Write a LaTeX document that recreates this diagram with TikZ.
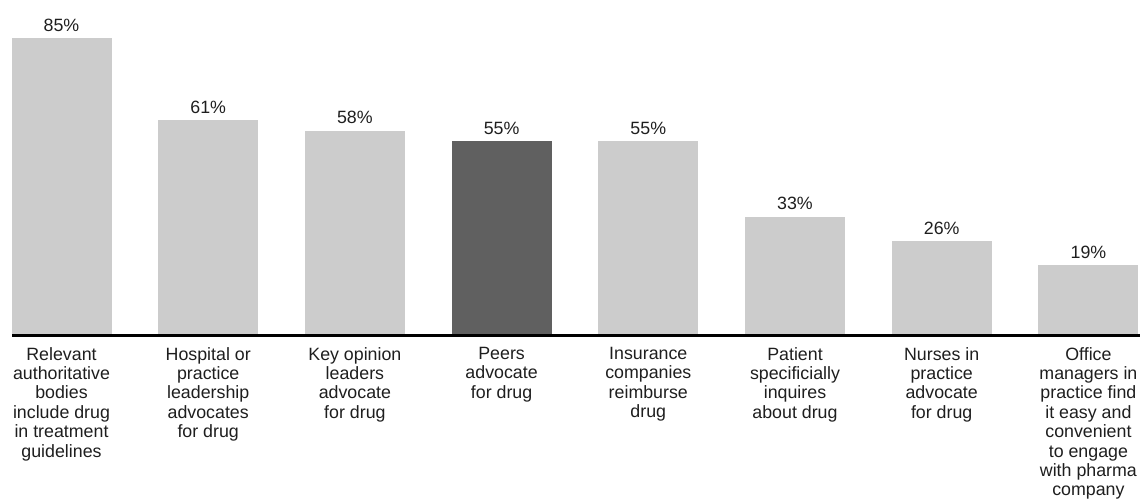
\documentclass[tikz,border=0pt]{standalone}
\usepackage{fontspec}
\setmainfont{Liberation Sans}
\usetikzlibrary{positioning}

\definecolor{barlight}{HTML}{CCCCCC}
\definecolor{bardark}{HTML}{606060}
\definecolor{inktext}{HTML}{1E1E1E}

\tikzstyle{bar} = [rectangle, inner sep=0pt, minimum width=100pt, anchor=south, fill=barlight]
\tikzstyle{bar-dark} = [bar, fill=bardark]
\tikzstyle{value} = [inner sep=0pt, anchor=base, text=inktext, font=\fontsize{17.8}{19.4}\selectfont]
\tikzstyle{cat} = [inner sep=0pt, anchor=north, align=center, text=inktext, font=\fontsize{17.8}{19.4}\selectfont]
\tikzstyle{axis} = [line width=3pt, black]

\begin{document}
\begin{tikzpicture}[x=1pt, y=1pt]
  \useasboundingbox (0,0) rectangle (1142,498);
  \coordinate (axis-l) at (12,162);
  \coordinate (axis-r) at (1140,162);

  % bars, values and categories
  \foreach \i/\v/\kind/\txt in {
      1/85/bar/{Relevant\\authoritative\\bodies\\include drug\\in treatment\\guidelines},
      2/61/bar/{Hospital or\\practice\\leadership\\advocates\\for drug},
      3/58/bar/{Key opinion\\leaders\\advocate\\for drug},
      4/55/bar-dark/{Peers\\advocate\\for drug},
      5/55/bar/{Insurance\\companies\\reimburse\\drug},
      6/33/bar/{Patient\\specificially\\inquires\\about drug},
      7/26/bar/{Nurses in\\practice\\advocate\\for drug},
      8/19/bar/{Office\\managers in\\practice find\\it easy and\\convenient\\to engage\\with pharma\\company}} {
    \pgfmathsetmacro{\h}{3.44*\v+5.6}
    \node (bar\i) [\kind, minimum height=\h pt] at ({61.5+146.7*(\i-1)},162) {};
    \node (val\i) [value, yshift=6.5pt] at (bar\i.north) {\v\%};
    \node (cat\i) [cat] at ({61.5+146.7*(\i-1)},151) {\txt};
  }

  \draw [axis] (axis-l) -- (axis-r);
\end{tikzpicture}
\end{document}
